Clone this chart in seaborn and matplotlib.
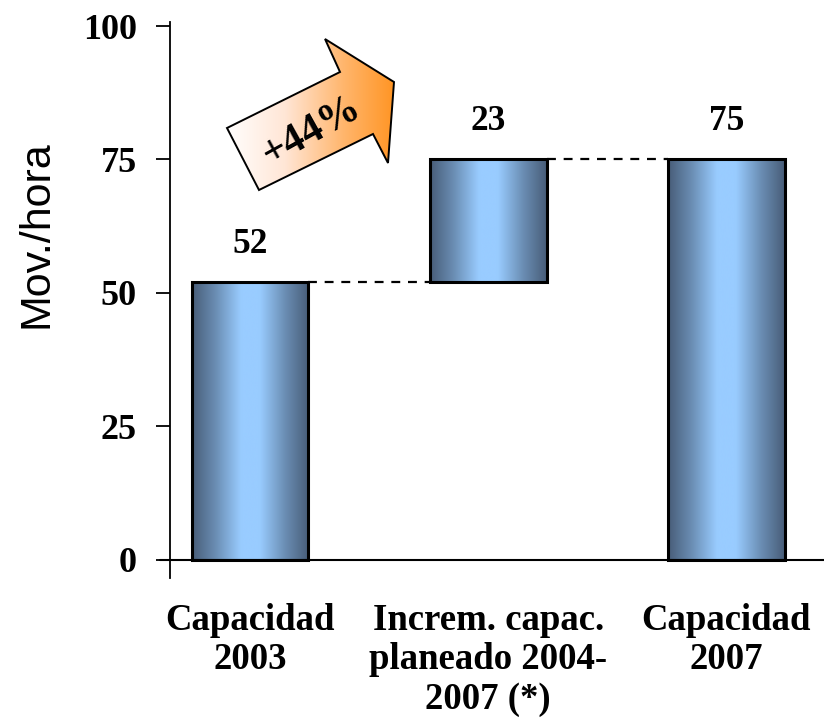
import numpy as np
import pandas as pd
import matplotlib
matplotlib.use("Agg")
import matplotlib.pyplot as plt
from matplotlib.colors import LinearSegmentedColormap
from matplotlib.patches import Polygon
import seaborn as sns

# Data
categories = ["Capacidad\n2003", "Increm. capac.\nplaneado 2004-\n2007 (*)", "Capacidad\n2007"]
values = [52, 23, 75]
value_labels = ["52", "23", "75"]
growth_label = "+44%"
y_ticks = [0, 25, 50, 75, 100]
y_label = "Mov./hora"

sns.set_theme(style="white")
plt.rcParams["font.family"] = ["Liberation Serif", "DejaVu Serif"]

W, H = 824, 720
fig = plt.figure(figsize=(W / 100, H / 100), dpi=100)
ax = fig.add_axes([170 / W, 1 - 578 / H, 654 / W, (578 - 22) / H])

df = pd.DataFrame({"cat": categories, "val": values})
sns.barplot(data=df, x="cat", y="val", ax=ax, width=0.49, color="#7fa8d6",
            edgecolor="black", linewidth=2.2, saturation=1)

# Waterfall: the increment bar floats on top of the 2003 capacity
bottoms = [0, values[0], 0]

bar_cmap = LinearSegmentedColormap.from_list(
    "bar_grad",
    [(0.0, "#485d78"), (0.2, "#6a8db3"), (0.42, "#99ccff"),
     (0.58, "#99ccff"), (0.8, "#6a8db3"), (1.0, "#485d78")])
grad = np.linspace(0, 1, 256).reshape(1, -1)

patches = list(ax.patches)
for p, b in zip(patches, bottoms):
    p.set_y(b)
    p.set_facecolor("none")
    p.set_zorder(3)
    x0, w, h = p.get_x(), p.get_width(), p.get_height()
    im = ax.imshow(grad, extent=(x0, x0 + w, b, b + h), aspect="auto",
                   cmap=bar_cmap, zorder=2, interpolation="bicubic")
    im.set_clip_path(p)

# Value labels above each bar
for p, b, lab in zip(patches, bottoms, value_labels):
    cx = p.get_x() + p.get_width() / 2
    top = b + p.get_height()
    ax.annotate(lab, (cx, top), xytext=(0, 27), textcoords="offset points",
                ha="center", va="center", fontsize=25.5, fontweight="bold",
                color="black")

# Dashed connectors between consecutive bar tops
for i in range(len(patches) - 1):
    p1, p2 = patches[i], patches[i + 1]
    level = bottoms[i] + p1.get_height()
    ax.plot([p1.get_x() + p1.get_width(), p2.get_x()], [level, level],
            color="black", lw=1.6, ls=(0, (4, 3.5)), zorder=3)

ax.set_xlim(-0.336, 2.41)
ax.set_ylim(-3.4, 100.75)
ax.set_yticks(y_ticks)
ax.set_yticklabels([str(t) for t in y_ticks], fontsize=26, fontweight="bold")
ax.set_xticks(range(len(categories)))
ax.set_xticklabels(categories, fontsize=26.5, fontweight="bold", linespacing=1.16)
ax.tick_params(axis="y", direction="out", length=10, width=1.3, pad=14,
               colors="black", left=True)
ax.tick_params(axis="x", length=0, pad=18, colors="black")
ax.set_xlabel("")
ax.set_ylabel(y_label, fontsize=31, family=["Liberation Sans", "DejaVu Sans"],
              color="black")
ax.yaxis.set_label_coords(-0.204, 0.618)
ax.yaxis.label.set_verticalalignment("center")

for side in ["top", "right", "bottom"]:
    ax.spines[side].set_visible(False)
ax.spines["left"].set_color("black")
ax.spines["left"].set_linewidth(1.3)
ax.axhline(0, xmin=-10 / 654, xmax=1, color="black", lw=1.5, clip_on=False,
           zorder=4)

# Growth arrow
ov = fig.add_axes([0, 0, 1, 1], zorder=5)
ov.set_xlim(0, W)
ov.set_ylim(H, 0)
ov.axis("off")
ov.patch.set_alpha(0)
arrow_pts = [(227, 128), (340, 72), (325, 39), (394, 82),
             (388, 163), (373, 134), (259, 190)]
arrow = Polygon(arrow_pts, closed=True, facecolor="none", edgecolor="black",
                lw=1.4, zorder=3)
ov.add_patch(arrow)
arrow_cmap = LinearSegmentedColormap.from_list(
    "arrow_grad", [(0.0, "#ffffff"), (0.35, "#ffe6d6"), (0.7, "#ffb56b"),
                   (1.0, "#ff9422")])
aim = ov.imshow(grad, extent=(225, 396, 192, 38), aspect="auto",
                cmap=arrow_cmap, zorder=2, interpolation="bicubic")
aim.set_clip_path(arrow)
ov.text(312, 131, growth_label, rotation=29, ha="center", va="center",
        fontsize=30, fontweight="bold", color="black", rotation_mode="anchor",
        zorder=4)
ov.set_xlim(0, W)
ov.set_ylim(H, 0)

fig.savefig("out.png", dpi=100)
